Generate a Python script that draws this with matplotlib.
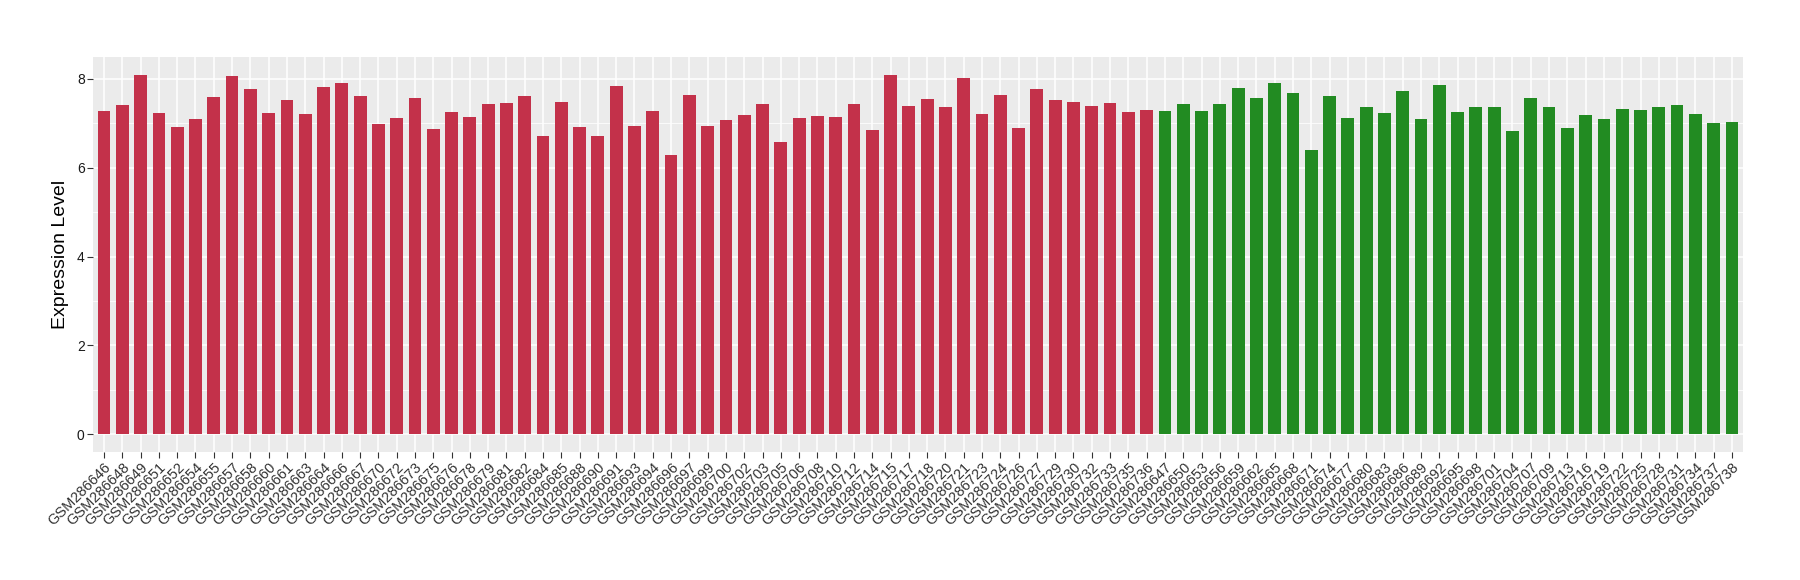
import matplotlib
matplotlib.use("Agg")
import matplotlib.pyplot as plt
import numpy as np

plt.rcParams['font.family'] = ['Liberation Sans', 'DejaVu Sans']

# group 1 (red)
red_samples = ["GSM286646", "GSM286648", "GSM286649", "GSM286651", "GSM286652", "GSM286654",
               "GSM286655", "GSM286657", "GSM286658", "GSM286660", "GSM286661", "GSM286663",
               "GSM286664", "GSM286666", "GSM286667", "GSM286670", "GSM286672", "GSM286673",
               "GSM286675", "GSM286676", "GSM286678", "GSM286679", "GSM286681", "GSM286682",
               "GSM286684", "GSM286685", "GSM286688", "GSM286690", "GSM286691", "GSM286693",
               "GSM286694", "GSM286696", "GSM286697", "GSM286699", "GSM286700", "GSM286702",
               "GSM286703", "GSM286705", "GSM286706", "GSM286708", "GSM286710", "GSM286712",
               "GSM286714", "GSM286715", "GSM286717", "GSM286718", "GSM286720", "GSM286721",
               "GSM286723", "GSM286724", "GSM286726", "GSM286727", "GSM286729", "GSM286730",
               "GSM286732", "GSM286733", "GSM286735", "GSM286736"]
red_values = [7.28, 7.41, 8.09, 7.23, 6.91, 7.09, 7.59, 8.07, 7.77, 7.23,
              7.52, 7.21, 7.82, 7.91, 7.62, 6.98, 7.12, 7.57, 6.87, 7.25,
              7.14, 7.43, 7.46, 7.62, 6.71, 7.48, 6.91, 6.71, 7.84, 6.94,
              7.28, 6.28, 7.64, 6.94, 7.07, 7.18, 7.43, 6.57, 7.12, 7.16,
              7.14, 7.43, 6.85, 8.09, 7.39, 7.55, 7.37, 8.02, 7.21, 7.64,
              6.89, 7.77, 7.52, 7.48, 7.39, 7.46, 7.25, 7.30]

# group 2 (green)
green_samples = ["GSM286647", "GSM286650", "GSM286653", "GSM286656", "GSM286659", "GSM286662",
                 "GSM286665", "GSM286668", "GSM286671", "GSM286674", "GSM286677", "GSM286680",
                 "GSM286683", "GSM286686", "GSM286689", "GSM286692", "GSM286695", "GSM286698",
                 "GSM286701", "GSM286704", "GSM286707", "GSM286709", "GSM286713", "GSM286716",
                 "GSM286719", "GSM286722", "GSM286725", "GSM286728", "GSM286731", "GSM286734",
                 "GSM286737", "GSM286738"]
green_values = [7.28, 7.43, 7.28, 7.43, 7.80, 7.57, 7.91, 7.68, 6.39, 7.62,
                7.12, 7.37, 7.23, 7.73, 7.09, 7.86, 7.25, 7.37, 7.37, 6.82,
                7.57, 7.37, 6.89, 7.18, 7.09, 7.32, 7.30, 7.37, 7.41, 7.21,
                7.00, 7.03]

samples = red_samples + green_samples
values = red_values + green_values
colours = ["#C3314A"] * len(red_samples) + ["#228B22"] * len(green_samples)

fig = plt.figure(figsize=(18, 5.8), dpi=100)
ax = fig.add_axes([0.0517, 0.2207, 0.9166, 0.681])
ax.set_facecolor("#EBEBEB")

x = np.arange(len(samples))
ax.bar(x, values, width=0.7, color=colours, zorder=3)

ax.set_xlim(-0.6, len(samples) - 0.4)
top = max(values)
ax.set_ylim(-0.05 * top, top * 1.05)

ax.set_yticks([0, 2, 4, 6, 8])
ax.set_yticks([1, 3, 5, 7], minor=True)
ax.set_xticks(x)
ax.set_xticklabels(samples, rotation=45, ha="right", va="top",
                   rotation_mode="anchor", fontsize=10.5, color="#1A1A1A")
ax.tick_params(axis="y", labelsize=10, colors="#333333", labelcolor="#1A1A1A",
               length=4, width=0.8, pad=2)
ax.tick_params(axis="y", which="minor", length=0)
ax.tick_params(axis="x", colors="#333333", length=4, width=0.8, pad=2)

ax.grid(True, which="major", color="white", linewidth=1.1, zorder=1)
ax.grid(True, which="minor", axis="y", color="white", linewidth=0.55, zorder=1)
ax.set_axisbelow(True)
for s in ax.spines.values():
    s.set_visible(False)

ax.set_ylabel("Expression Level", fontsize=14, labelpad=6)

fig.savefig("out.png", dpi=100)
